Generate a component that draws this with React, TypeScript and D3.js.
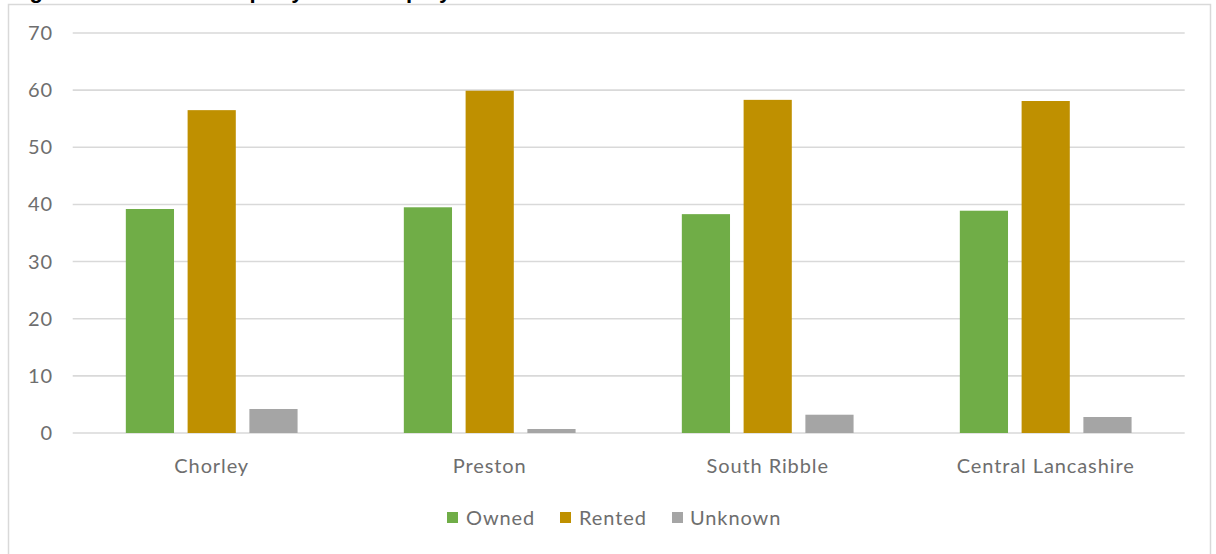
import React from "react";
import * as d3 from "d3";

const categories = ["Chorley", "Preston", "South Ribble", "Central Lancashire"];
const seriesNames = ["Owned", "Rented", "Unknown"];
const owned = [39.2, 39.5, 38.3, 38.9];
const rented = [56.5, 59.9, 58.3, 58.1];
const unknown = [4.2, 0.7, 3.2, 2.8];
const yTicks = [0, 10, 20, 30, 40, 50, 60, 70];
const colors = ["#70AD47", "#BF9000", "#A5A5A5"];
const titleText = "Figure 6: Business Property ownership by area";

const W = 1216;
const H = 554;
const FONT = "Lato, 'Open Sans', sans-serif";
const TEXT = "#6e6e6e";
const FS = 20;
const LS = 0.9;

export default function App() {
  const values = [owned, rented, unknown];
  const x0 = d3.scaleBand<string>().domain(categories).range([72.7, 1184.7]).paddingInner(0).paddingOuter(0);
  const x1 = d3
    .scaleBand<string>()
    .domain(seriesNames)
    .range([0, x0.bandwidth()])
    .paddingInner(0.22)
    .paddingOuter(0.86);
  const y = d3.scaleLinear().domain([0, 70]).range([433, 33]);

  const legendItems = [
    { name: seriesNames[0], sx: 447, tx: 466 },
    { name: seriesNames[1], sx: 560, tx: 579 },
    { name: seriesNames[2], sx: 672, tx: 690 },
  ];

  return (
    <svg
      width={W}
      height={H}
      style={{ position: "absolute", left: 0, top: 0, background: "#fff" }}
    >
      <text x={10} y={-2} fontFamily="'Liberation Sans', Arial, sans-serif" fontWeight="bold" fontSize={22} fill="#000">
        {titleText}
      </text>
      <rect x={8.5} y={4.5} width={1202} height={560} fill="#fff" stroke="#d9d9d9" strokeWidth={1.5} />
      {yTicks.map((t) => (
        <g key={t}>
          <line x1={72.7} x2={1184.7} y1={y(t)} y2={y(t)} stroke="#d9d9d9" strokeWidth={1.6} />
          <text
            x={53}
            y={y(t) + 7}
            textAnchor="end"
            fontFamily={FONT}
            fontSize={FS}
            letterSpacing={LS}
            fill={TEXT}
          >
            {t}
          </text>
        </g>
      ))}
      {categories.map((c, ci) => (
        <g key={c} transform={`translate(${x0(c)},0)`}>
          {seriesNames.map((s, si) => (
            <rect
              key={s}
              x={x1(s)}
              y={y(values[si][ci])}
              width={x1.bandwidth()}
              height={y(0) - y(values[si][ci])}
              fill={colors[si]}
            />
          ))}
          <text
            x={x0.bandwidth() / 2}
            y={473}
            textAnchor="middle"
            fontFamily={FONT}
            fontSize={FS}
            letterSpacing={LS}
            fill={TEXT}
          >
            {c}
          </text>
        </g>
      ))}
      {legendItems.map((l, i) => (
        <g key={l.name}>
          <rect x={l.sx} y={512} width={11} height={11} fill={colors[i]} />
          <text x={l.tx} y={525} fontFamily={FONT} fontSize={FS} letterSpacing={LS} fill={TEXT}>
            {l.name}
          </text>
        </g>
      ))}
    </svg>
  );
}
